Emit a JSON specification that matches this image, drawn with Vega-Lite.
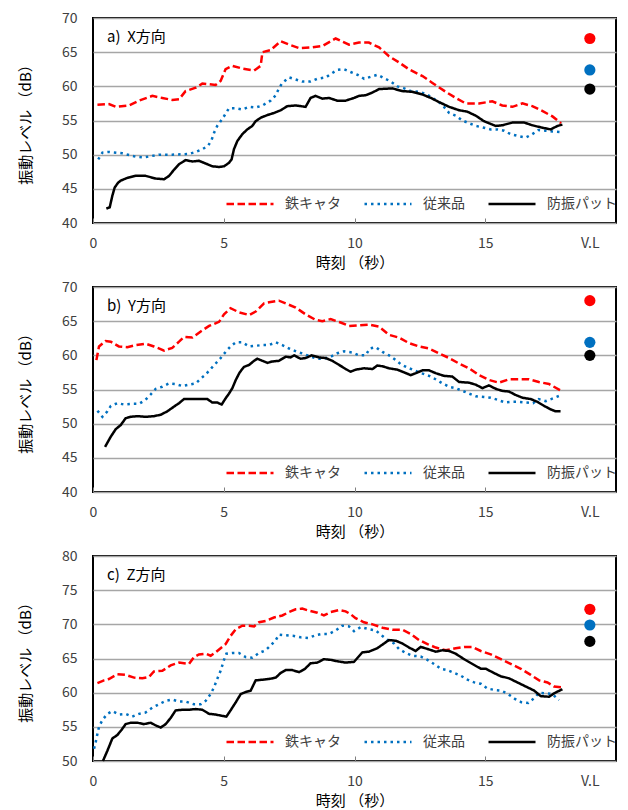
{
"$schema":"https://vega.github.io/schema/vega-lite/v6.json",
"background":"white",
"padding":{"left":17,"top":10,"right":4,"bottom":0},
"bounds":"flush",
"spacing":64,
"config":{
 "font":"Noto Sans CJK JP",
 "view":{"stroke":"black","strokeWidth":2},
 "axis":{"labelFont":"Noto Sans CJK JP","labelFontSize":14,"labelColor":"#404040","titleFont":"Noto Sans CJK JP","titleFontSize":15,"titleFontWeight":"normal","titleColor":"#000000","domain":false},
 "axisY":{"grid":true,"gridColor":"#a6a6a6","gridWidth":1.5,"ticks":false,"labelPadding":16,"titlePadding":28},
 "axisX":{"grid":false,"tickSize":-5,"tickColor":"#808080","tickWidth":1,"labelPadding":18,"titlePadding":5,"labelFlush":false},
 "title":{"anchor":"start","frame":"group","offset":-34,"dx":14,"fontSize":15,"fontWeight":"normal","color":"#000000","font":"Noto Sans CJK JP"}
},
"datasets":{
"vl":[
{"p":"a","k":"鉄キャタ","t":19,"v":67.0},{"p":"a","k":"従来品","t":19,"v":62.4},{"p":"a","k":"防振パット","t":19,"v":59.6},
{"p":"b","k":"鉄キャタ","t":19,"v":68.0},{"p":"b","k":"従来品","t":19,"v":61.9},{"p":"b","k":"防振パット","t":19,"v":60.0},
{"p":"c","k":"鉄キャタ","t":19,"v":72.2},{"p":"c","k":"従来品","t":19,"v":69.9},{"p":"c","k":"防振パット","t":19,"v":67.5}
],
"d":[
{"p":"a","s":"鉄キャタ","t":0.17,"v":57.3},{"p":"a","s":"鉄キャタ","t":0.61,"v":57.4},{"p":"a","s":"鉄キャタ","t":0.87,"v":57.0},{"p":"a","s":"鉄キャタ","t":1.38,"v":57.2},{"p":"a","s":"鉄キャタ","t":1.76,"v":57.9},{"p":"a","s":"鉄キャタ","t":2.27,"v":58.6},{"p":"a","s":"鉄キャタ","t":2.65,"v":58.3},{"p":"a","s":"鉄キャタ","t":3.03,"v":58.0},{"p":"a","s":"鉄キャタ","t":3.29,"v":58.1},{"p":"a","s":"鉄キャタ","t":3.54,"v":59.3},{"p":"a","s":"鉄キャタ","t":3.93,"v":59.8},{"p":"a","s":"鉄キャタ","t":4.18,"v":60.4},{"p":"a","s":"鉄キャタ","t":4.69,"v":60.2},{"p":"a","s":"鉄キャタ","t":4.88,"v":60.8},{"p":"a","s":"鉄キャタ","t":5.07,"v":62.5},{"p":"a","s":"鉄キャタ","t":5.33,"v":63.0},{"p":"a","s":"鉄キャタ","t":5.71,"v":62.6},{"p":"a","s":"鉄キャタ","t":6.16,"v":62.3},{"p":"a","s":"鉄キャタ","t":6.41,"v":63.0},{"p":"a","s":"鉄キャタ","t":6.48,"v":65.0},{"p":"a","s":"鉄キャタ","t":6.79,"v":65.3},{"p":"a","s":"鉄キャタ","t":7.18,"v":66.6},{"p":"a","s":"鉄キャタ","t":7.5,"v":66.1},{"p":"a","s":"鉄キャタ","t":7.88,"v":65.6},{"p":"a","s":"鉄キャタ","t":8.39,"v":65.7},{"p":"a","s":"鉄キャタ","t":8.77,"v":65.9},{"p":"a","s":"鉄キャタ","t":9.28,"v":67.0},{"p":"a","s":"鉄キャタ","t":9.79,"v":66.1},{"p":"a","s":"鉄キャタ","t":10.17,"v":66.4},{"p":"a","s":"鉄キャタ","t":10.55,"v":66.4},{"p":"a","s":"鉄キャタ","t":10.94,"v":65.7},{"p":"a","s":"鉄キャタ","t":11.32,"v":64.4},{"p":"a","s":"鉄キャタ","t":11.7,"v":63.5},{"p":"a","s":"鉄キャタ","t":12.08,"v":62.5},{"p":"a","s":"鉄キャタ","t":12.6,"v":61.5},{"p":"a","s":"鉄キャタ","t":12.98,"v":60.5},{"p":"a","s":"鉄キャタ","t":13.49,"v":59.2},{"p":"a","s":"鉄キャタ","t":13.87,"v":58.3},{"p":"a","s":"鉄キャタ","t":14.25,"v":57.5},{"p":"a","s":"鉄キャタ","t":14.76,"v":57.5},{"p":"a","s":"鉄キャタ","t":15.27,"v":57.8},{"p":"a","s":"鉄キャタ","t":15.65,"v":57.2},{"p":"a","s":"鉄キャタ","t":16.04,"v":57.0},{"p":"a","s":"鉄キャタ","t":16.42,"v":57.5},{"p":"a","s":"鉄キャタ","t":16.8,"v":57.1},{"p":"a","s":"鉄キャタ","t":17.18,"v":56.4},{"p":"a","s":"鉄キャタ","t":17.57,"v":55.6},{"p":"a","s":"鉄キャタ","t":17.9,"v":54.6},
{"p":"a","s":"従来品","t":0.2,"v":49.3},{"p":"a","s":"従来品","t":0.36,"v":50.3},{"p":"a","s":"従来品","t":0.61,"v":50.4},{"p":"a","s":"従来品","t":1.12,"v":50.2},{"p":"a","s":"従来品","t":1.63,"v":49.7},{"p":"a","s":"従来品","t":1.95,"v":49.6},{"p":"a","s":"従来品","t":2.52,"v":50.0},{"p":"a","s":"従来品","t":3.03,"v":50.0},{"p":"a","s":"従来品","t":3.67,"v":50.1},{"p":"a","s":"従来品","t":3.93,"v":50.4},{"p":"a","s":"従来品","t":4.18,"v":50.8},{"p":"a","s":"従来品","t":4.4,"v":51.3},{"p":"a","s":"従来品","t":4.53,"v":52.1},{"p":"a","s":"従来品","t":4.63,"v":53.2},{"p":"a","s":"従来品","t":4.75,"v":54.2},{"p":"a","s":"従来品","t":4.88,"v":54.9},{"p":"a","s":"従来品","t":5.04,"v":55.8},{"p":"a","s":"従来品","t":5.2,"v":56.8},{"p":"a","s":"従来品","t":5.46,"v":56.8},{"p":"a","s":"従来品","t":5.71,"v":56.6},{"p":"a","s":"従来品","t":5.97,"v":57.0},{"p":"a","s":"従来品","t":6.22,"v":56.9},{"p":"a","s":"従来品","t":6.48,"v":57.2},{"p":"a","s":"従来品","t":6.79,"v":57.9},{"p":"a","s":"従来品","t":6.99,"v":58.7},{"p":"a","s":"従来品","t":7.11,"v":59.7},{"p":"a","s":"従来品","t":7.24,"v":60.5},{"p":"a","s":"従来品","t":7.5,"v":61.3},{"p":"a","s":"従来品","t":7.75,"v":61.0},{"p":"a","s":"従来品","t":8.0,"v":60.7},{"p":"a","s":"従来品","t":8.32,"v":60.7},{"p":"a","s":"従来品","t":8.58,"v":61.1},{"p":"a","s":"従来品","t":8.9,"v":61.3},{"p":"a","s":"従来品","t":9.09,"v":61.8},{"p":"a","s":"従来品","t":9.34,"v":62.4},{"p":"a","s":"従来品","t":9.6,"v":62.5},{"p":"a","s":"従来品","t":9.85,"v":62.1},{"p":"a","s":"従来品","t":10.11,"v":61.7},{"p":"a","s":"従来品","t":10.37,"v":61.1},{"p":"a","s":"従来品","t":10.62,"v":61.4},{"p":"a","s":"従来品","t":10.88,"v":61.7},{"p":"a","s":"従来品","t":11.13,"v":61.2},{"p":"a","s":"従来品","t":11.39,"v":60.7},{"p":"a","s":"従来品","t":11.64,"v":60.0},{"p":"a","s":"従来品","t":11.9,"v":59.7},{"p":"a","s":"従来品","t":12.15,"v":59.3},{"p":"a","s":"従来品","t":12.47,"v":59.2},{"p":"a","s":"従来品","t":12.73,"v":58.9},{"p":"a","s":"従来品","t":12.98,"v":58.3},{"p":"a","s":"従来品","t":13.23,"v":57.7},{"p":"a","s":"従来品","t":13.42,"v":57.0},{"p":"a","s":"従来品","t":13.62,"v":56.1},{"p":"a","s":"従来品","t":13.87,"v":55.7},{"p":"a","s":"従来品","t":14.13,"v":55.0},{"p":"a","s":"従来品","t":14.38,"v":54.6},{"p":"a","s":"従来品","t":14.64,"v":54.2},{"p":"a","s":"従来品","t":14.89,"v":54.0},{"p":"a","s":"従来品","t":15.21,"v":53.7},{"p":"a","s":"従来品","t":15.46,"v":53.7},{"p":"a","s":"従来品","t":15.72,"v":53.5},{"p":"a","s":"従来品","t":15.97,"v":53.0},{"p":"a","s":"従来品","t":16.29,"v":52.7},{"p":"a","s":"従来品","t":16.55,"v":52.5},{"p":"a","s":"従来品","t":16.8,"v":53.0},{"p":"a","s":"従来品","t":17.03,"v":53.6},{"p":"a","s":"従来品","t":17.31,"v":53.5},{"p":"a","s":"従来品","t":17.56,"v":53.4},{"p":"a","s":"従来品","t":17.85,"v":53.3},
{"p":"a","s":"防振パット","t":0.51,"v":42.1},{"p":"a","s":"防振パット","t":0.64,"v":42.3},{"p":"a","s":"防振パット","t":0.74,"v":44.0},{"p":"a","s":"防振パット","t":0.83,"v":45.2},{"p":"a","s":"防振パット","t":0.96,"v":45.9},{"p":"a","s":"防振パット","t":1.06,"v":46.2},{"p":"a","s":"防振パット","t":1.31,"v":46.6},{"p":"a","s":"防振パット","t":1.63,"v":46.9},{"p":"a","s":"防振パット","t":2.01,"v":46.9},{"p":"a","s":"防振パット","t":2.4,"v":46.5},{"p":"a","s":"防振パット","t":2.72,"v":46.4},{"p":"a","s":"防振パット","t":2.91,"v":46.9},{"p":"a","s":"防振パット","t":3.1,"v":47.8},{"p":"a","s":"防振パット","t":3.29,"v":48.6},{"p":"a","s":"防振パット","t":3.54,"v":49.2},{"p":"a","s":"防振パット","t":3.8,"v":49.0},{"p":"a","s":"防振パット","t":4.05,"v":49.1},{"p":"a","s":"防振パット","t":4.31,"v":48.7},{"p":"a","s":"防振パット","t":4.56,"v":48.3},{"p":"a","s":"防振パット","t":4.82,"v":48.2},{"p":"a","s":"防振パット","t":5.01,"v":48.3},{"p":"a","s":"防振パット","t":5.2,"v":48.8},{"p":"a","s":"防振パット","t":5.3,"v":49.3},{"p":"a","s":"防振パット","t":5.39,"v":50.8},{"p":"a","s":"防振パット","t":5.52,"v":52.0},{"p":"a","s":"防振パット","t":5.71,"v":53.0},{"p":"a","s":"防振パット","t":5.9,"v":53.7},{"p":"a","s":"防振パット","t":6.09,"v":54.2},{"p":"a","s":"防振パット","t":6.22,"v":54.9},{"p":"a","s":"防振パット","t":6.41,"v":55.4},{"p":"a","s":"防振パット","t":6.67,"v":55.8},{"p":"a","s":"防振パット","t":6.92,"v":56.1},{"p":"a","s":"防振パット","t":7.18,"v":56.5},{"p":"a","s":"防振パット","t":7.43,"v":57.1},{"p":"a","s":"防振パット","t":7.75,"v":57.2},{"p":"a","s":"防振パット","t":8.13,"v":57.0},{"p":"a","s":"防振パット","t":8.32,"v":58.3},{"p":"a","s":"防振パット","t":8.51,"v":58.6},{"p":"a","s":"防振パット","t":8.77,"v":58.2},{"p":"a","s":"防振パット","t":9.03,"v":58.3},{"p":"a","s":"防振パット","t":9.34,"v":57.9},{"p":"a","s":"防振パット","t":9.66,"v":57.9},{"p":"a","s":"防振パット","t":9.98,"v":58.3},{"p":"a","s":"防振パット","t":10.17,"v":58.6},{"p":"a","s":"防振パット","t":10.43,"v":58.7},{"p":"a","s":"防振パット","t":10.69,"v":59.1},{"p":"a","s":"防振パット","t":10.94,"v":59.6},{"p":"a","s":"防振パット","t":11.45,"v":59.7},{"p":"a","s":"防振パット","t":11.83,"v":59.3},{"p":"a","s":"防振パット","t":12.21,"v":59.2},{"p":"a","s":"防振パット","t":12.6,"v":58.8},{"p":"a","s":"防振パット","t":12.92,"v":58.3},{"p":"a","s":"防振パット","t":13.23,"v":57.7},{"p":"a","s":"防振パット","t":13.62,"v":57.0},{"p":"a","s":"防振パット","t":14.0,"v":56.5},{"p":"a","s":"防振パット","t":14.31,"v":56.3},{"p":"a","s":"防振パット","t":14.64,"v":55.7},{"p":"a","s":"防振パット","t":14.95,"v":54.9},{"p":"a","s":"防振パット","t":15.4,"v":54.2},{"p":"a","s":"防振パット","t":15.65,"v":54.3},{"p":"a","s":"防振パット","t":16.04,"v":54.7},{"p":"a","s":"防振パット","t":16.49,"v":54.7},{"p":"a","s":"防振パット","t":16.8,"v":54.3},{"p":"a","s":"防振パット","t":17.12,"v":54.0},{"p":"a","s":"防振パット","t":17.5,"v":53.7},{"p":"a","s":"防振パット","t":17.76,"v":54.2},{"p":"a","s":"防振パット","t":17.95,"v":54.4},
{"p":"b","s":"鉄キャタ","t":0.13,"v":59.3},{"p":"b","s":"鉄キャタ","t":0.23,"v":61.3},{"p":"b","s":"鉄キャタ","t":0.48,"v":62.1},{"p":"b","s":"鉄キャタ","t":0.68,"v":62.0},{"p":"b","s":"鉄キャタ","t":0.99,"v":61.3},{"p":"b","s":"鉄キャタ","t":1.31,"v":61.2},{"p":"b","s":"鉄キャタ","t":1.63,"v":61.5},{"p":"b","s":"鉄キャタ","t":2.01,"v":61.7},{"p":"b","s":"鉄キャタ","t":2.33,"v":61.3},{"p":"b","s":"鉄キャタ","t":2.72,"v":60.7},{"p":"b","s":"鉄キャタ","t":3.03,"v":61.1},{"p":"b","s":"鉄キャタ","t":3.29,"v":62.0},{"p":"b","s":"鉄キャタ","t":3.48,"v":62.7},{"p":"b","s":"鉄キャタ","t":3.8,"v":62.6},{"p":"b","s":"鉄キャタ","t":4.12,"v":63.5},{"p":"b","s":"鉄キャタ","t":4.44,"v":64.3},{"p":"b","s":"鉄キャタ","t":4.82,"v":64.9},{"p":"b","s":"鉄キャタ","t":5.01,"v":66.0},{"p":"b","s":"鉄キャタ","t":5.26,"v":66.9},{"p":"b","s":"鉄キャタ","t":5.58,"v":66.3},{"p":"b","s":"鉄キャタ","t":5.97,"v":65.9},{"p":"b","s":"鉄キャタ","t":6.22,"v":66.4},{"p":"b","s":"鉄キャタ","t":6.54,"v":67.6},{"p":"b","s":"鉄キャタ","t":6.79,"v":67.8},{"p":"b","s":"鉄キャタ","t":7.11,"v":68.0},{"p":"b","s":"鉄キャタ","t":7.43,"v":67.5},{"p":"b","s":"鉄キャタ","t":7.75,"v":67.0},{"p":"b","s":"鉄キャタ","t":8.13,"v":66.0},{"p":"b","s":"鉄キャタ","t":8.51,"v":65.2},{"p":"b","s":"鉄キャタ","t":8.77,"v":65.0},{"p":"b","s":"鉄キャタ","t":9.09,"v":65.3},{"p":"b","s":"鉄キャタ","t":9.47,"v":64.8},{"p":"b","s":"鉄キャタ","t":9.79,"v":64.3},{"p":"b","s":"鉄キャタ","t":10.17,"v":64.4},{"p":"b","s":"鉄キャタ","t":10.55,"v":64.5},{"p":"b","s":"鉄キャタ","t":10.94,"v":64.2},{"p":"b","s":"鉄キャタ","t":11.32,"v":63.0},{"p":"b","s":"鉄キャタ","t":11.7,"v":62.6},{"p":"b","s":"鉄キャタ","t":12.08,"v":61.8},{"p":"b","s":"鉄キャタ","t":12.47,"v":61.3},{"p":"b","s":"鉄キャタ","t":12.85,"v":61.0},{"p":"b","s":"鉄キャタ","t":13.23,"v":60.3},{"p":"b","s":"鉄キャタ","t":13.62,"v":59.6},{"p":"b","s":"鉄キャタ","t":14.0,"v":58.8},{"p":"b","s":"鉄キャタ","t":14.38,"v":58.1},{"p":"b","s":"鉄キャタ","t":14.76,"v":57.1},{"p":"b","s":"鉄キャタ","t":15.14,"v":56.4},{"p":"b","s":"鉄キャタ","t":15.52,"v":56.0},{"p":"b","s":"鉄キャタ","t":15.91,"v":56.5},{"p":"b","s":"鉄キャタ","t":16.29,"v":56.5},{"p":"b","s":"鉄キャタ","t":16.67,"v":56.5},{"p":"b","s":"鉄キャタ","t":17.05,"v":56.1},{"p":"b","s":"鉄キャタ","t":17.44,"v":55.8},{"p":"b","s":"鉄キャタ","t":17.86,"v":54.9},
{"p":"b","s":"従来品","t":0.17,"v":51.9},{"p":"b","s":"従来品","t":0.36,"v":51.0},{"p":"b","s":"従来品","t":0.55,"v":51.8},{"p":"b","s":"従来品","t":0.68,"v":52.6},{"p":"b","s":"従来品","t":0.93,"v":53.0},{"p":"b","s":"従来品","t":1.19,"v":52.8},{"p":"b","s":"従来品","t":1.5,"v":52.9},{"p":"b","s":"従来品","t":1.76,"v":52.9},{"p":"b","s":"従来品","t":2.01,"v":53.5},{"p":"b","s":"従来品","t":2.21,"v":54.3},{"p":"b","s":"従来品","t":2.4,"v":55.1},{"p":"b","s":"従来品","t":2.65,"v":55.4},{"p":"b","s":"従来品","t":2.91,"v":55.9},{"p":"b","s":"従来品","t":3.16,"v":55.8},{"p":"b","s":"従来品","t":3.42,"v":55.5},{"p":"b","s":"従来品","t":3.67,"v":55.7},{"p":"b","s":"従来品","t":3.93,"v":55.9},{"p":"b","s":"従来品","t":4.12,"v":56.6},{"p":"b","s":"従来品","t":4.31,"v":57.2},{"p":"b","s":"従来品","t":4.5,"v":58.0},{"p":"b","s":"従来品","t":4.69,"v":58.8},{"p":"b","s":"従来品","t":4.88,"v":59.6},{"p":"b","s":"従来品","t":5.07,"v":60.5},{"p":"b","s":"従来品","t":5.26,"v":61.3},{"p":"b","s":"従来品","t":5.46,"v":61.9},{"p":"b","s":"従来品","t":5.71,"v":61.9},{"p":"b","s":"従来品","t":5.97,"v":61.3},{"p":"b","s":"従来品","t":6.22,"v":61.4},{"p":"b","s":"従来品","t":6.48,"v":61.5},{"p":"b","s":"従来品","t":6.73,"v":61.5},{"p":"b","s":"従来品","t":6.99,"v":61.9},{"p":"b","s":"従来品","t":7.24,"v":61.5},{"p":"b","s":"従来品","t":7.5,"v":61.0},{"p":"b","s":"従来品","t":7.81,"v":60.5},{"p":"b","s":"従来品","t":8.07,"v":60.2},{"p":"b","s":"従来品","t":8.32,"v":59.8},{"p":"b","s":"従来品","t":8.58,"v":59.5},{"p":"b","s":"従来品","t":8.83,"v":59.5},{"p":"b","s":"従来品","t":9.09,"v":59.8},{"p":"b","s":"従来品","t":9.34,"v":60.3},{"p":"b","s":"従来品","t":9.6,"v":60.6},{"p":"b","s":"従来品","t":9.92,"v":60.4},{"p":"b","s":"従来品","t":10.17,"v":60.0},{"p":"b","s":"従来品","t":10.43,"v":60.0},{"p":"b","s":"従来品","t":10.58,"v":61.0},{"p":"b","s":"従来品","t":10.81,"v":61.2},{"p":"b","s":"従来品","t":11.07,"v":60.5},{"p":"b","s":"従来品","t":11.32,"v":60.0},{"p":"b","s":"従来品","t":11.58,"v":59.3},{"p":"b","s":"従来品","t":11.77,"v":58.7},{"p":"b","s":"従来品","t":12.03,"v":58.2},{"p":"b","s":"従来品","t":12.29,"v":57.8},{"p":"b","s":"従来品","t":12.55,"v":57.4},{"p":"b","s":"従来品","t":12.85,"v":57.0},{"p":"b","s":"従来品","t":13.1,"v":56.5},{"p":"b","s":"従来品","t":13.36,"v":55.9},{"p":"b","s":"従来品","t":13.62,"v":55.4},{"p":"b","s":"従来品","t":13.87,"v":55.2},{"p":"b","s":"従来品","t":14.13,"v":54.8},{"p":"b","s":"従来品","t":14.38,"v":54.4},{"p":"b","s":"従来品","t":14.64,"v":54.0},{"p":"b","s":"従来品","t":14.95,"v":53.9},{"p":"b","s":"従来品","t":15.21,"v":53.8},{"p":"b","s":"従来品","t":15.46,"v":53.5},{"p":"b","s":"従来品","t":15.76,"v":53.1},{"p":"b","s":"従来品","t":16.04,"v":53.2},{"p":"b","s":"従来品","t":16.29,"v":53.2},{"p":"b","s":"従来品","t":16.55,"v":53.1},{"p":"b","s":"従来品","t":16.83,"v":53.0},{"p":"b","s":"従来品","t":17.05,"v":53.6},{"p":"b","s":"従来品","t":17.31,"v":53.3},{"p":"b","s":"従来品","t":17.59,"v":53.7},{"p":"b","s":"従来品","t":17.85,"v":54.1},
{"p":"b","s":"防振パット","t":0.46,"v":46.6},{"p":"b","s":"防振パット","t":0.68,"v":48.1},{"p":"b","s":"防振パット","t":0.87,"v":49.2},{"p":"b","s":"防振パット","t":1.06,"v":49.8},{"p":"b","s":"防振パット","t":1.25,"v":50.8},{"p":"b","s":"防振パット","t":1.44,"v":51.0},{"p":"b","s":"防振パット","t":1.7,"v":51.1},{"p":"b","s":"防振パット","t":2.01,"v":51.0},{"p":"b","s":"防振パット","t":2.33,"v":51.1},{"p":"b","s":"防振パット","t":2.59,"v":51.3},{"p":"b","s":"防振パット","t":2.84,"v":51.8},{"p":"b","s":"防振パット","t":3.1,"v":52.5},{"p":"b","s":"防振パット","t":3.29,"v":53.0},{"p":"b","s":"防振パット","t":3.48,"v":53.6},{"p":"b","s":"防振パット","t":3.8,"v":53.6},{"p":"b","s":"防振パット","t":4.18,"v":53.6},{"p":"b","s":"防振パット","t":4.37,"v":53.6},{"p":"b","s":"防振パット","t":4.56,"v":53.1},{"p":"b","s":"防振パット","t":4.75,"v":53.1},{"p":"b","s":"防振パット","t":4.92,"v":52.8},{"p":"b","s":"防振パット","t":5.07,"v":53.7},{"p":"b","s":"防振パット","t":5.2,"v":54.4},{"p":"b","s":"防振パット","t":5.33,"v":55.2},{"p":"b","s":"防振パット","t":5.46,"v":56.4},{"p":"b","s":"防振パット","t":5.61,"v":57.5},{"p":"b","s":"防振パット","t":5.77,"v":58.3},{"p":"b","s":"防振パット","t":5.97,"v":58.6},{"p":"b","s":"防振パット","t":6.16,"v":59.2},{"p":"b","s":"防振パット","t":6.28,"v":59.5},{"p":"b","s":"防振パット","t":6.48,"v":59.2},{"p":"b","s":"防振パット","t":6.67,"v":58.9},{"p":"b","s":"防振パット","t":6.86,"v":59.1},{"p":"b","s":"防振パット","t":7.11,"v":59.2},{"p":"b","s":"防振パット","t":7.37,"v":59.8},{"p":"b","s":"防振パット","t":7.56,"v":59.7},{"p":"b","s":"防振パット","t":7.69,"v":60.0},{"p":"b","s":"防振パット","t":7.94,"v":59.5},{"p":"b","s":"防振パット","t":8.13,"v":59.6},{"p":"b","s":"防振パット","t":8.36,"v":60.0},{"p":"b","s":"防振パット","t":8.64,"v":59.7},{"p":"b","s":"防振パット","t":8.9,"v":59.6},{"p":"b","s":"防振パット","t":9.15,"v":59.2},{"p":"b","s":"防振パット","t":9.41,"v":58.6},{"p":"b","s":"防振パット","t":9.66,"v":58.0},{"p":"b","s":"防振パット","t":9.85,"v":57.6},{"p":"b","s":"防振パット","t":10.04,"v":57.9},{"p":"b","s":"防振パット","t":10.36,"v":58.1},{"p":"b","s":"防振パット","t":10.69,"v":58.0},{"p":"b","s":"防振パット","t":10.87,"v":58.5},{"p":"b","s":"防振パット","t":11.07,"v":58.4},{"p":"b","s":"防振パット","t":11.32,"v":58.1},{"p":"b","s":"防振パット","t":11.64,"v":57.9},{"p":"b","s":"防振パット","t":11.9,"v":57.5},{"p":"b","s":"防振パット","t":12.15,"v":57.1},{"p":"b","s":"防振パット","t":12.35,"v":57.4},{"p":"b","s":"防振パット","t":12.6,"v":57.8},{"p":"b","s":"防振パット","t":12.85,"v":57.8},{"p":"b","s":"防振パット","t":13.1,"v":57.4},{"p":"b","s":"防振パット","t":13.42,"v":57.0},{"p":"b","s":"防振パット","t":13.74,"v":56.9},{"p":"b","s":"防振パット","t":14.0,"v":56.1},{"p":"b","s":"防振パット","t":14.38,"v":56.0},{"p":"b","s":"防振パット","t":14.64,"v":55.7},{"p":"b","s":"防振パット","t":14.89,"v":55.2},{"p":"b","s":"防振パット","t":15.14,"v":55.6},{"p":"b","s":"防振パット","t":15.4,"v":55.1},{"p":"b","s":"防振パット","t":15.65,"v":54.8},{"p":"b","s":"防振パット","t":15.91,"v":54.7},{"p":"b","s":"防振パット","t":16.16,"v":54.2},{"p":"b","s":"防振パット","t":16.42,"v":53.8},{"p":"b","s":"防振パット","t":16.74,"v":53.6},{"p":"b","s":"防振パット","t":16.99,"v":53.2},{"p":"b","s":"防振パット","t":17.25,"v":52.6},{"p":"b","s":"防振パット","t":17.5,"v":52.1},{"p":"b","s":"防振パット","t":17.69,"v":51.8},{"p":"b","s":"防振パット","t":17.88,"v":51.8},
{"p":"c","s":"鉄キャタ","t":0.17,"v":61.4},{"p":"c","s":"鉄キャタ","t":0.42,"v":61.8},{"p":"c","s":"鉄キャタ","t":0.61,"v":62.0},{"p":"c","s":"鉄キャタ","t":0.93,"v":62.7},{"p":"c","s":"鉄キャタ","t":1.25,"v":62.6},{"p":"c","s":"鉄キャタ","t":1.57,"v":62.2},{"p":"c","s":"鉄キャタ","t":1.89,"v":62.1},{"p":"c","s":"鉄キャタ","t":2.14,"v":62.3},{"p":"c","s":"鉄キャタ","t":2.33,"v":63.1},{"p":"c","s":"鉄キャタ","t":2.65,"v":63.2},{"p":"c","s":"鉄キャタ","t":2.97,"v":64.0},{"p":"c","s":"鉄キャタ","t":3.29,"v":64.4},{"p":"c","s":"鉄キャタ","t":3.67,"v":64.2},{"p":"c","s":"鉄キャタ","t":3.86,"v":65.2},{"p":"c","s":"鉄キャタ","t":4.05,"v":65.6},{"p":"c","s":"鉄キャタ","t":4.31,"v":65.7},{"p":"c","s":"鉄キャタ","t":4.5,"v":65.4},{"p":"c","s":"鉄キャタ","t":4.69,"v":65.9},{"p":"c","s":"鉄キャタ","t":4.88,"v":66.5},{"p":"c","s":"鉄キャタ","t":5.07,"v":67.1},{"p":"c","s":"鉄キャタ","t":5.26,"v":68.3},{"p":"c","s":"鉄キャタ","t":5.46,"v":69.3},{"p":"c","s":"鉄キャタ","t":5.71,"v":69.8},{"p":"c","s":"鉄キャタ","t":5.97,"v":69.8},{"p":"c","s":"鉄キャタ","t":6.16,"v":69.7},{"p":"c","s":"鉄キャタ","t":6.35,"v":70.3},{"p":"c","s":"鉄キャタ","t":6.6,"v":70.5},{"p":"c","s":"鉄キャタ","t":6.92,"v":71.0},{"p":"c","s":"鉄キャタ","t":7.24,"v":71.3},{"p":"c","s":"鉄キャタ","t":7.5,"v":71.8},{"p":"c","s":"鉄キャタ","t":7.75,"v":72.2},{"p":"c","s":"鉄キャタ","t":8.0,"v":72.3},{"p":"c","s":"鉄キャタ","t":8.26,"v":72.0},{"p":"c","s":"鉄キャタ","t":8.58,"v":71.7},{"p":"c","s":"鉄キャタ","t":8.83,"v":71.3},{"p":"c","s":"鉄キャタ","t":9.09,"v":71.8},{"p":"c","s":"鉄キャタ","t":9.41,"v":72.1},{"p":"c","s":"鉄キャタ","t":9.66,"v":71.9},{"p":"c","s":"鉄キャタ","t":9.85,"v":71.5},{"p":"c","s":"鉄キャタ","t":10.04,"v":70.9},{"p":"c","s":"鉄キャタ","t":10.36,"v":70.3},{"p":"c","s":"鉄キャタ","t":10.69,"v":70.0},{"p":"c","s":"鉄キャタ","t":11.07,"v":69.5},{"p":"c","s":"鉄キャタ","t":11.45,"v":69.2},{"p":"c","s":"鉄キャタ","t":11.83,"v":69.2},{"p":"c","s":"鉄キャタ","t":12.15,"v":68.6},{"p":"c","s":"鉄キャタ","t":12.47,"v":67.7},{"p":"c","s":"鉄キャタ","t":12.79,"v":67.1},{"p":"c","s":"鉄キャタ","t":13.11,"v":66.6},{"p":"c","s":"鉄キャタ","t":13.49,"v":66.2},{"p":"c","s":"鉄キャタ","t":13.87,"v":66.5},{"p":"c","s":"鉄キャタ","t":14.19,"v":66.7},{"p":"c","s":"鉄キャタ","t":14.51,"v":66.7},{"p":"c","s":"鉄キャタ","t":14.83,"v":66.1},{"p":"c","s":"鉄キャタ","t":15.21,"v":65.6},{"p":"c","s":"鉄キャタ","t":15.6,"v":64.9},{"p":"c","s":"鉄キャタ","t":15.97,"v":64.2},{"p":"c","s":"鉄キャタ","t":16.36,"v":63.5},{"p":"c","s":"鉄キャタ","t":16.74,"v":62.6},{"p":"c","s":"鉄キャタ","t":17.06,"v":61.8},{"p":"c","s":"鉄キャタ","t":17.38,"v":61.5},{"p":"c","s":"鉄キャタ","t":17.63,"v":60.9},{"p":"c","s":"鉄キャタ","t":17.92,"v":60.8},
{"p":"c","s":"従来品","t":0.04,"v":51.8},{"p":"c","s":"従来品","t":0.1,"v":52.7},{"p":"c","s":"従来品","t":0.17,"v":54.0},{"p":"c","s":"従来品","t":0.23,"v":55.0},{"p":"c","s":"従来品","t":0.36,"v":56.0},{"p":"c","s":"従来品","t":0.55,"v":56.9},{"p":"c","s":"従来品","t":0.74,"v":57.3},{"p":"c","s":"従来品","t":0.99,"v":56.8},{"p":"c","s":"従来品","t":1.25,"v":56.9},{"p":"c","s":"従来品","t":1.5,"v":56.5},{"p":"c","s":"従来品","t":1.76,"v":56.9},{"p":"c","s":"従来品","t":2.01,"v":57.1},{"p":"c","s":"従来品","t":2.27,"v":57.8},{"p":"c","s":"従来品","t":2.52,"v":58.3},{"p":"c","s":"従来品","t":2.78,"v":58.8},{"p":"c","s":"従来品","t":3.03,"v":59.0},{"p":"c","s":"従来品","t":3.29,"v":58.7},{"p":"c","s":"従来品","t":3.54,"v":58.7},{"p":"c","s":"従来品","t":3.86,"v":58.3},{"p":"c","s":"従来品","t":4.12,"v":58.3},{"p":"c","s":"従来品","t":4.31,"v":58.8},{"p":"c","s":"従来品","t":4.5,"v":59.8},{"p":"c","s":"従来品","t":4.63,"v":60.8},{"p":"c","s":"従来品","t":4.75,"v":62.0},{"p":"c","s":"従来品","t":4.88,"v":63.2},{"p":"c","s":"従来品","t":5.01,"v":64.8},{"p":"c","s":"従来品","t":5.1,"v":65.7},{"p":"c","s":"従来品","t":5.33,"v":65.8},{"p":"c","s":"従来品","t":5.58,"v":65.8},{"p":"c","s":"従来品","t":5.84,"v":65.2},{"p":"c","s":"従来品","t":6.09,"v":65.1},{"p":"c","s":"従来品","t":6.35,"v":65.8},{"p":"c","s":"従来品","t":6.6,"v":66.2},{"p":"c","s":"従来品","t":6.79,"v":66.9},{"p":"c","s":"従来品","t":6.99,"v":67.7},{"p":"c","s":"従来品","t":7.11,"v":68.5},{"p":"c","s":"従来品","t":7.37,"v":68.4},{"p":"c","s":"従来品","t":7.69,"v":68.3},{"p":"c","s":"従来品","t":7.94,"v":68.1},{"p":"c","s":"従来品","t":8.23,"v":68.0},{"p":"c","s":"従来品","t":8.51,"v":68.4},{"p":"c","s":"従来品","t":8.77,"v":68.6},{"p":"c","s":"従来品","t":9.02,"v":68.6},{"p":"c","s":"従来品","t":9.28,"v":69.1},{"p":"c","s":"従来品","t":9.53,"v":69.8},{"p":"c","s":"従来品","t":9.79,"v":69.7},{"p":"c","s":"従来品","t":9.98,"v":69.0},{"p":"c","s":"従来品","t":10.24,"v":69.6},{"p":"c","s":"従来品","t":10.55,"v":69.3},{"p":"c","s":"従来品","t":10.81,"v":69.1},{"p":"c","s":"従来品","t":11.07,"v":68.3},{"p":"c","s":"従来品","t":11.26,"v":67.7},{"p":"c","s":"従来品","t":11.51,"v":67.2},{"p":"c","s":"従来品","t":11.7,"v":66.4},{"p":"c","s":"従来品","t":11.96,"v":65.8},{"p":"c","s":"従来品","t":12.21,"v":65.4},{"p":"c","s":"従来品","t":12.53,"v":65.3},{"p":"c","s":"従来品","t":12.79,"v":64.8},{"p":"c","s":"従来品","t":13.04,"v":64.2},{"p":"c","s":"従来品","t":13.3,"v":63.5},{"p":"c","s":"従来品","t":13.55,"v":63.3},{"p":"c","s":"従来品","t":13.8,"v":62.9},{"p":"c","s":"従来品","t":14.06,"v":62.5},{"p":"c","s":"従来品","t":14.32,"v":61.9},{"p":"c","s":"従来品","t":14.58,"v":61.5},{"p":"c","s":"従来品","t":14.83,"v":61.3},{"p":"c","s":"従来品","t":15.08,"v":60.6},{"p":"c","s":"従来品","t":15.36,"v":60.4},{"p":"c","s":"従来品","t":15.62,"v":60.3},{"p":"c","s":"従来品","t":15.87,"v":59.8},{"p":"c","s":"従来品","t":16.13,"v":59.1},{"p":"c","s":"従来品","t":16.38,"v":58.6},{"p":"c","s":"従来品","t":16.65,"v":58.5},{"p":"c","s":"従来品","t":16.87,"v":59.2},{"p":"c","s":"従来品","t":17.06,"v":60.0},{"p":"c","s":"従来品","t":17.31,"v":59.9},{"p":"c","s":"従来品","t":17.56,"v":59.8},{"p":"c","s":"従来品","t":17.82,"v":58.9},
{"p":"c","s":"防振パット","t":0.38,"v":50.0},{"p":"c","s":"防振パット","t":0.55,"v":51.5},{"p":"c","s":"防振パット","t":0.74,"v":53.3},{"p":"c","s":"防振パット","t":0.93,"v":53.8},{"p":"c","s":"防振パット","t":1.08,"v":54.5},{"p":"c","s":"防振パット","t":1.25,"v":55.4},{"p":"c","s":"防振パット","t":1.44,"v":55.6},{"p":"c","s":"防振パット","t":1.7,"v":55.6},{"p":"c","s":"防振パット","t":1.95,"v":55.4},{"p":"c","s":"防振パット","t":2.21,"v":55.6},{"p":"c","s":"防振パット","t":2.4,"v":55.2},{"p":"c","s":"防振パット","t":2.59,"v":54.9},{"p":"c","s":"防振パット","t":2.78,"v":55.4},{"p":"c","s":"防振パット","t":2.97,"v":56.3},{"p":"c","s":"防振パット","t":3.16,"v":57.4},{"p":"c","s":"防振パット","t":3.42,"v":57.5},{"p":"c","s":"防振パット","t":3.67,"v":57.5},{"p":"c","s":"防振パット","t":3.93,"v":57.6},{"p":"c","s":"防振パット","t":4.18,"v":57.5},{"p":"c","s":"防振パット","t":4.44,"v":56.9},{"p":"c","s":"防振パット","t":4.69,"v":56.8},{"p":"c","s":"防振パット","t":4.95,"v":56.6},{"p":"c","s":"防振パット","t":5.1,"v":56.5},{"p":"c","s":"防振パット","t":5.26,"v":57.4},{"p":"c","s":"防振パット","t":5.46,"v":58.6},{"p":"c","s":"防振パット","t":5.65,"v":59.8},{"p":"c","s":"防振パット","t":5.84,"v":60.1},{"p":"c","s":"防振パット","t":6.03,"v":60.3},{"p":"c","s":"防振パット","t":6.22,"v":61.8},{"p":"c","s":"防振パット","t":6.48,"v":61.9},{"p":"c","s":"防振パット","t":6.73,"v":62.0},{"p":"c","s":"防振パット","t":6.99,"v":62.2},{"p":"c","s":"防振パット","t":7.18,"v":62.9},{"p":"c","s":"防振パット","t":7.37,"v":63.3},{"p":"c","s":"防振パット","t":7.62,"v":63.3},{"p":"c","s":"防振パット","t":7.88,"v":63.0},{"p":"c","s":"防振パット","t":8.11,"v":63.5},{"p":"c","s":"防振パット","t":8.32,"v":64.3},{"p":"c","s":"防振パット","t":8.58,"v":64.4},{"p":"c","s":"防振パット","t":8.83,"v":64.9},{"p":"c","s":"防振パット","t":9.09,"v":64.8},{"p":"c","s":"防振パット","t":9.34,"v":64.6},{"p":"c","s":"防振パット","t":9.66,"v":64.4},{"p":"c","s":"防振パット","t":9.98,"v":64.5},{"p":"c","s":"防振パット","t":10.3,"v":65.9},{"p":"c","s":"防振パット","t":10.55,"v":66.0},{"p":"c","s":"防振パット","t":10.87,"v":66.5},{"p":"c","s":"防振パット","t":11.13,"v":67.2},{"p":"c","s":"防振パット","t":11.32,"v":67.7},{"p":"c","s":"防振パット","t":11.58,"v":67.6},{"p":"c","s":"防振パット","t":11.83,"v":67.2},{"p":"c","s":"防振パット","t":12.09,"v":66.6},{"p":"c","s":"防振パット","t":12.34,"v":66.1},{"p":"c","s":"防振パット","t":12.53,"v":66.7},{"p":"c","s":"防振パット","t":12.79,"v":66.4},{"p":"c","s":"防振パット","t":13.11,"v":66.0},{"p":"c","s":"防振パット","t":13.36,"v":66.2},{"p":"c","s":"防振パット","t":13.62,"v":66.1},{"p":"c","s":"防振パット","t":13.87,"v":65.7},{"p":"c","s":"防振パット","t":14.19,"v":64.9},{"p":"c","s":"防振パット","t":14.51,"v":64.2},{"p":"c","s":"防振パット","t":14.83,"v":63.5},{"p":"c","s":"防振パット","t":15.02,"v":63.5},{"p":"c","s":"防振パット","t":15.27,"v":63.0},{"p":"c","s":"防振パット","t":15.59,"v":62.4},{"p":"c","s":"防振パット","t":15.91,"v":62.1},{"p":"c","s":"防振パット","t":16.23,"v":61.5},{"p":"c","s":"防振パット","t":16.55,"v":60.9},{"p":"c","s":"防振パット","t":16.87,"v":60.3},{"p":"c","s":"防振パット","t":17.12,"v":59.5},{"p":"c","s":"防振パット","t":17.44,"v":59.4},{"p":"c","s":"防振パット","t":17.63,"v":59.9},{"p":"c","s":"防振パット","t":17.95,"v":60.5}
]
},
"vconcat":[
{"width":523,"height":205,"title":"a)\u00a0\u00a0X方向",
 "encoding":{"x":{"field":"t","type":"quantitative","scale":{"domain":[0,20],"nice":false},"axis":{"values":[0,5,10,15,19],"title":"時刻 （秒）","labelExpr":"datum.value == 19 ? 'V.L' : datum.label","tickColor":{"condition":{"test":"datum.value == 19","value":"transparent"},"value":"#808080"}}},
   "y":{"field":"v","type":"quantitative","scale":{"domain":[40,70],"nice":false,"zero":false},"axis":{"values":[40,45,50,55,60,65,70],"title":"振動レベル （dB）"}}},
 "layer":[
  {"data":{"name":"d"},"transform":[{"filter":"datum.p == 'a'"}],"mark":{"type":"line","strokeWidth":2.5},
   "encoding":{
   "color":{"field":"s","type":"nominal","scale":{"domain":["鉄キャタ","従来品","防振パット"],"range":["#ff0000","#0070c0","#000000"]},"legend":{"title":null,"orient":"none","legendX":132,"legendY":161,"direction":"horizontal","columns":3,"labelFontSize":14,"labelColor":"#404040","labelOffset":10,"columnPadding":18,"symbolType":"stroke","symbolSize":2209,"symbolStrokeWidth":2.5,"padding":0}},
   "strokeDash":{"field":"s","type":"nominal","scale":{"domain":["鉄キャタ","従来品","防振パット"],"range":[[7.5,3.5],[2.5,4],[1,0]]},"legend":{"title":null,"orient":"none","legendX":132,"legendY":161,"direction":"horizontal","columns":3,"labelFontSize":14,"labelColor":"#404040","labelOffset":10,"columnPadding":18,"symbolType":"stroke","symbolSize":2209,"symbolStrokeWidth":2.5,"padding":0}}}},
  {"data":{"name":"vl"},"transform":[{"filter":"datum.p == 'a'"}],"mark":{"type":"circle","size":125,"opacity":1},
   "encoding":{"fill":{"field":"k","type":"nominal","scale":{"domain":["鉄キャタ","従来品","防振パット"],"range":["#ff0000","#0070c0","#000000"]},"legend":null}}}
 ]},
{"width":523,"height":205,"title":"b)\u00a0\u00a0Y方向",
 "encoding":{"x":{"field":"t","type":"quantitative","scale":{"domain":[0,20],"nice":false},"axis":{"values":[0,5,10,15,19],"title":"時刻 （秒）","labelExpr":"datum.value == 19 ? 'V.L' : datum.label","tickColor":{"condition":{"test":"datum.value == 19","value":"transparent"},"value":"#808080"}}},
   "y":{"field":"v","type":"quantitative","scale":{"domain":[40,70],"nice":false,"zero":false},"axis":{"values":[40,45,50,55,60,65,70],"title":"振動レベル （dB）"}}},
 "layer":[
  {"data":{"name":"d"},"transform":[{"filter":"datum.p == 'b'"}],"mark":{"type":"line","strokeWidth":2.5},
   "encoding":{
   "color":{"field":"s","type":"nominal","scale":{"domain":["鉄キャタ","従来品","防振パット"],"range":["#ff0000","#0070c0","#000000"]},"legend":{"title":null,"orient":"none","legendX":132,"legendY":161,"direction":"horizontal","columns":3,"labelFontSize":14,"labelColor":"#404040","labelOffset":10,"columnPadding":18,"symbolType":"stroke","symbolSize":2209,"symbolStrokeWidth":2.5,"padding":0}},
   "strokeDash":{"field":"s","type":"nominal","scale":{"domain":["鉄キャタ","従来品","防振パット"],"range":[[7.5,3.5],[2.5,4],[1,0]]},"legend":{"title":null,"orient":"none","legendX":132,"legendY":161,"direction":"horizontal","columns":3,"labelFontSize":14,"labelColor":"#404040","labelOffset":10,"columnPadding":18,"symbolType":"stroke","symbolSize":2209,"symbolStrokeWidth":2.5,"padding":0}}}},
  {"data":{"name":"vl"},"transform":[{"filter":"datum.p == 'b'"}],"mark":{"type":"circle","size":125,"opacity":1},
   "encoding":{"fill":{"field":"k","type":"nominal","scale":{"domain":["鉄キャタ","従来品","防振パット"],"range":["#ff0000","#0070c0","#000000"]},"legend":null}}}
 ]},
{"width":523,"height":205,"title":"c)\u00a0\u00a0Z方向",
 "encoding":{"x":{"field":"t","type":"quantitative","scale":{"domain":[0,20],"nice":false},"axis":{"values":[0,5,10,15,19],"title":"時刻 （秒）","labelExpr":"datum.value == 19 ? 'V.L' : datum.label","tickColor":{"condition":{"test":"datum.value == 19","value":"transparent"},"value":"#808080"}}},
   "y":{"field":"v","type":"quantitative","scale":{"domain":[50,80],"nice":false,"zero":false},"axis":{"values":[50,55,60,65,70,75,80],"title":"振動レベル （dB）"}}},
 "layer":[
  {"data":{"name":"d"},"transform":[{"filter":"datum.p == 'c'"}],"mark":{"type":"line","strokeWidth":2.5},
   "encoding":{
   "color":{"field":"s","type":"nominal","scale":{"domain":["鉄キャタ","従来品","防振パット"],"range":["#ff0000","#0070c0","#000000"]},"legend":{"title":null,"orient":"none","legendX":132,"legendY":161,"direction":"horizontal","columns":3,"labelFontSize":14,"labelColor":"#404040","labelOffset":10,"columnPadding":18,"symbolType":"stroke","symbolSize":2209,"symbolStrokeWidth":2.5,"padding":0}},
   "strokeDash":{"field":"s","type":"nominal","scale":{"domain":["鉄キャタ","従来品","防振パット"],"range":[[7.5,3.5],[2.5,4],[1,0]]},"legend":{"title":null,"orient":"none","legendX":132,"legendY":161,"direction":"horizontal","columns":3,"labelFontSize":14,"labelColor":"#404040","labelOffset":10,"columnPadding":18,"symbolType":"stroke","symbolSize":2209,"symbolStrokeWidth":2.5,"padding":0}}}},
  {"data":{"name":"vl"},"transform":[{"filter":"datum.p == 'c'"}],"mark":{"type":"circle","size":125,"opacity":1},
   "encoding":{"fill":{"field":"k","type":"nominal","scale":{"domain":["鉄キャタ","従来品","防振パット"],"range":["#ff0000","#0070c0","#000000"]},"legend":null}}}
 ]}
],
"resolve":{"scale":{"x":"independent","y":"independent","color":"independent","strokeDash":"independent","fill":"independent"},"axis":{"x":"independent","y":"independent"},"legend":{"color":"independent","strokeDash":"independent"}}
}
